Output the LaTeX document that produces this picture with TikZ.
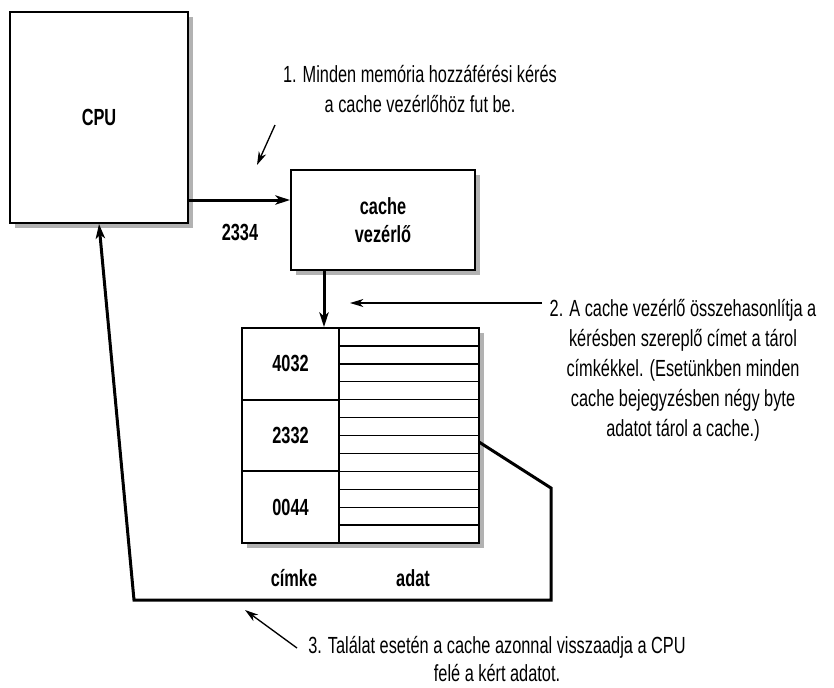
\documentclass[tikz,border=0pt]{standalone}
\usepackage{fontspec}
\setmainfont{Liberation Sans}[FakeStretch=0.7]
\usetikzlibrary{arrows.meta,shadows}

\tikzset{
  box/.style={draw,line width=1.5pt,fill=white,inner sep=0pt,
    drop shadow={shadow xshift=3.5pt,shadow yshift=-3.5pt,fill=black!30,opacity=1}},
  cell/.style={draw,line width=1.5pt,inner sep=0pt,minimum width=72.75pt,minimum height=53.75pt,
    font=\bfseries\fontsize{17.5}{21}\selectfont},
  lbl/.style={font=\bfseries\fontsize{17.5}{21}\selectfont},
  note/.style={align=center,font=\fontsize{17.5}{22.5}\selectfont},
  bus/.style={line width=2.25pt,line join=miter,-{Stealth[length=11pt,width=7pt,inset=3pt]}},
  hint/.style={line width=1pt,-{Stealth[length=10pt,width=6pt,inset=3pt]}},
}

\begin{document}
\begin{tikzpicture}[x=0.75pt,y=-0.75pt]
	\useasboundingbox (0,0) rectangle (834,687);

	% boxes
	\node[box,lbl,minimum width=133.5pt,minimum height=158.25pt] (cpu) at (99,117.5) {CPU};
	\node[box,lbl,align=center,minimum width=138pt,minimum height=75pt] (ctrl) at (383,220) {cache\\vezérlő};

	% cache table
	\node[box,minimum width=177.75pt,minimum height=161.25pt] (tab) at (360.5,435.5) {};
	\node[cell] (tag1) at (290.5,363.8) {4032};
	\node[cell] (tag2) at (290.5,435.5) {2332};
	\node[cell] (tag3) at (290.5,507.2) {0044};
	\foreach \r in {1,...,11}
		\draw[line width=1pt] (tag1.north east |- 0,{328+\r*215/12}) -- (tab.east |- 0,{328+\r*215/12});
	\node[lbl] (tagname) at (294,578) {címke};
	\node[lbl] (dataname) at (413,578) {adat};

	% request
	\coordinate (req) at (188,200);
	\draw[bus] (req) -- (req -| ctrl.west);
	\node[lbl] (addr) at (240,232) {2334};
	\coordinate (cmp) at (324,270);
	\draw[bus] (cmp) -- (cmp |- tab.north);

	% hit
	\coordinate (hit) at (479,442);
	\draw[bus] (hit) -- (551,488) -- (551,600) -- (134,600) -- (cpu.south);

	% notes
	\node[note] (n1) at (420,89.5) {1. Minden memória hozzáférési kérés\\a cache vezérlőhöz fut be.};
	\coordinate (n1a) at (275,125);
	\coordinate (n1b) at (257,165);
	\draw[hint] (n1a) -- (n1b);

	\node[note] (n2) at (683,370) {2. A cache vezérlő összehasonlítja a\\kérésben szereplő címet a tárol\\címkékkel. (Esetünkben minden\\cache bejegyzésben négy byte\\adatot tárol a cache.)};
	\coordinate (n2a) at (542,303);
	\draw[hint] (n2a) -- (350,303);

	\node[note,font=\fontsize{17.5}{20.5}\selectfont] (n3) at (497,659) {3. Találat esetén a cache azonnal visszaadja a CPU\\felé a kért adatot.};
	\coordinate (n3a) at (297,648);
	\draw[hint] (n3a) -- (245,610);

\end{tikzpicture}
\end{document}
